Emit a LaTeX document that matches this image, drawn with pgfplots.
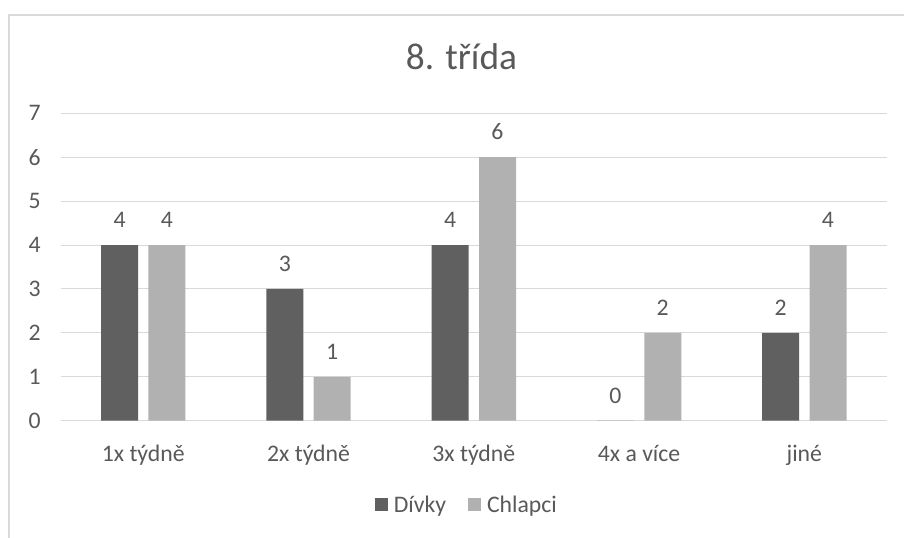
\documentclass[border=0pt]{standalone}
\usepackage{pgfplots}
\pgfplotsset{compat=1.18}
\usepackage{fontspec}
\setmainfont{Carlito}
\definecolor{txt}{HTML}{595959}
\definecolor{darkbar}{HTML}{606060}
\definecolor{lightbar}{HTML}{B1B1B1}
\definecolor{gridc}{HTML}{D9D9D9}
\pgfplotsset{sqlegend/.style={legend image code/.code={\fill[##1,draw=none] (0pt,-4.875pt) rectangle (9.75pt,4.875pt);}}}
\begin{document}
\begin{tikzpicture}
\begin{scope}
\clip (0,0) rectangle (678pt,402.75pt);
\fill[white] (0,0) rectangle (678pt,402.75pt);
\draw[gridc, line width=1pt] (6.75pt,-20pt) -- (6.75pt,391.5pt) -- (700pt,391.5pt);
\end{scope}
\node[anchor=base, text=txt, font=\fontsize{28}{32}\selectfont, inner sep=0pt] at (346.1pt,350.8pt) {8. třída};
\begin{axis}[
  at={(45.5pt,87.2pt)}, anchor=south west, scale only axis,
  width=619.7pt, height=230.6pt,
  ybar=7.8pt, bar width=27.75pt,
  xmin=-0.5, xmax=4.5, ymin=0, ymax=7,
  xtick={0,1,2,3,4}, xticklabels={1x týdně,2x týdně,3x týdně,4x a více,jiné},
  ytick={0,1,2,3,4,5,6,7},
  ymajorgrids, grid style={gridc, line width=0.75pt},
  axis line style={draw=none}, tick style={draw=none},
  /pgf/number format/assume math mode=true,
  tick label style={text=txt, font=\fontsize{17.8}{20}\selectfont},
  yticklabel style={xshift=-11.5pt},
  xticklabel style={yshift=-10.5pt},
  nodes near coords,
  nodes near coords style={anchor=base, yshift=13pt, inner sep=0pt, text=txt, font=\fontsize{17.8}{20}\selectfont},
  legend style={at={(0.494,-0.274)}, anchor=center, legend columns=2, draw=none, fill=none,
    text=txt, font=\fontsize{17.8}{20}\selectfont, nodes={inner xsep=4.5pt},
    /tikz/every even column/.append style={column sep=12pt}},
  every axis plot post/.append style={sqlegend},
]
\addplot[fill=darkbar, draw=none] coordinates {(0,4) (1,3) (2,4) (3,0) (4,2)};
\addplot[fill=lightbar, draw=none] coordinates {(0,4) (1,1) (2,6) (3,2) (4,4)};
\legend{Dívky, Chlapci}
\end{axis}
\pgfresetboundingbox
\useasboundingbox (0,0) rectangle (678pt,402.75pt);
\end{tikzpicture}
\end{document}
